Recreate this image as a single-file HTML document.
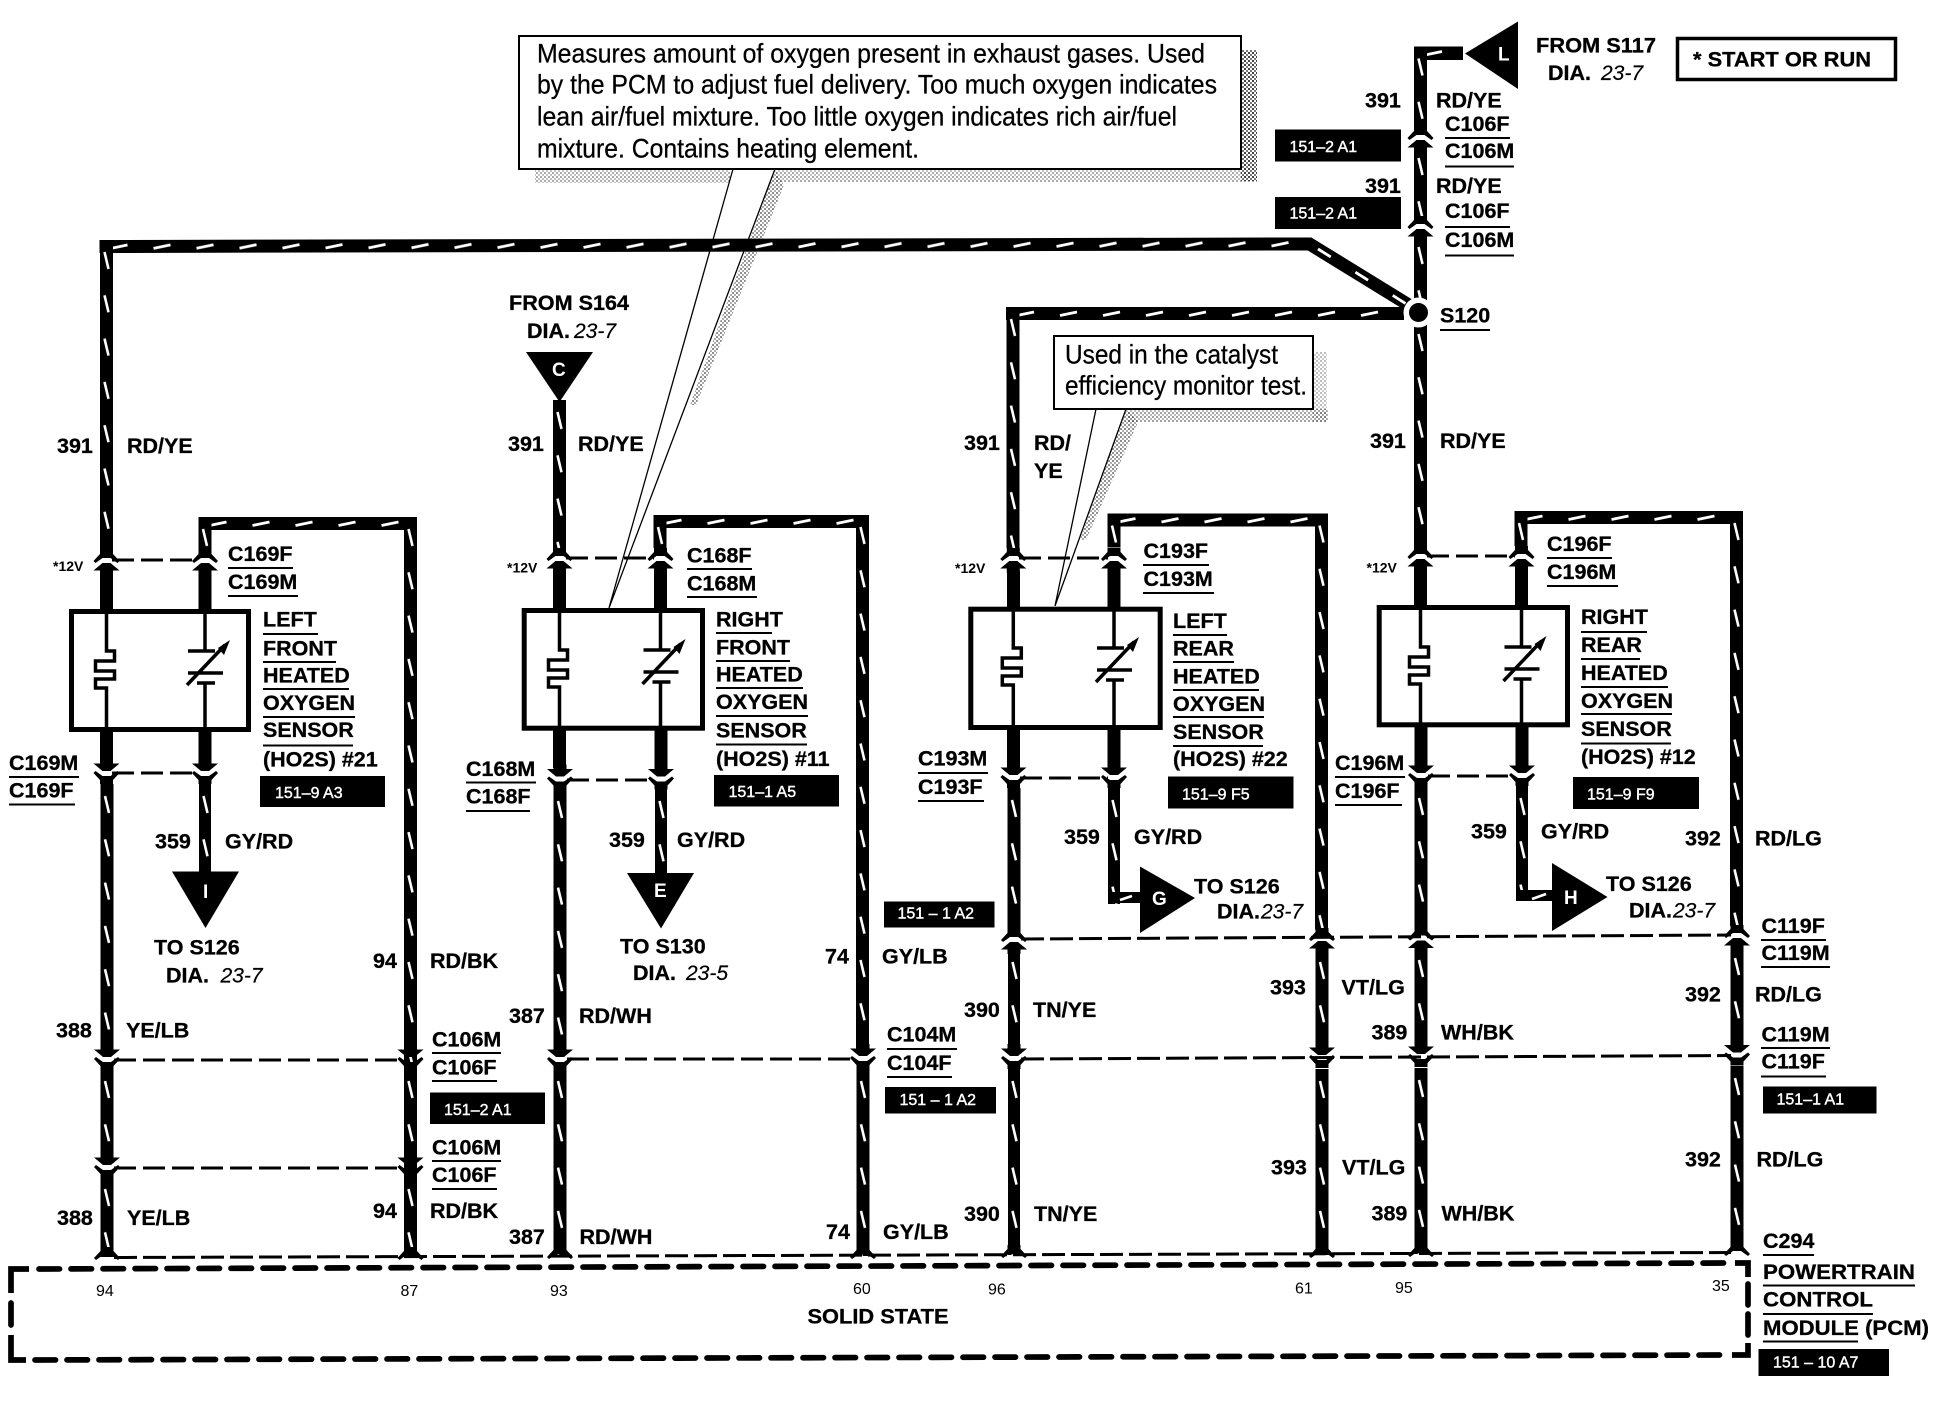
<!DOCTYPE html>
<html lang="en">
<head>
<meta charset="utf-8">
<title>Heated Oxygen Sensors Wiring Diagram</title>
<style>
html,body{margin:0;padding:0;background:#fff}
svg{display:block}
text{font-family:"Liberation Sans",sans-serif;fill:#000}
.b{font-weight:700;font-size:21.5px;stroke:#000;stroke-width:.3px}
.i{font-style:italic;font-size:21px;stroke:#000;stroke-width:.2px}
.c{font-size:24px;stroke:#000;stroke-width:.25px;transform-box:fill-box;transform-origin:0 100%;transform:scaleY(1.12)}
.v{font-weight:700;font-size:14px}
.n{font-size:16px}
.w{font-size:16px;fill:#fff;stroke:#fff;stroke-width:.4px}
.l{font-weight:700;font-size:19px;fill:#fff}
</style>
</head>
<body>
<svg xmlns="http://www.w3.org/2000/svg" width="1948" height="1408" viewBox="0 0 1948 1408">
<defs>
<pattern id="vw" width="13" height="43.3" patternUnits="userSpaceOnUse"><rect width="13" height="43.3" fill="#000"/><path d="M4.500 12L8.500 29" stroke="#fff" stroke-width="2.600"/></pattern>
<pattern id="hw" width="43" height="13" patternUnits="userSpaceOnUse"><rect width="43" height="13" fill="#000"/><path d="M11 8.500L28 5" stroke="#fff" stroke-width="2.800"/></pattern>
<pattern id="st" width="4" height="4" patternUnits="userSpaceOnUse"><rect width="2" height="2" fill="#444"/><rect x="2" y="2" width="2" height="2" fill="#777"/></pattern>
<path id="F" d="M-6.500-10L-6.500-6L-13 1L-11 3L-4-2L4-2L11 3L13 1L6.500-6L6.500-10Z"/>
<g id="U"><use href="#F"/><path d="M-4 3L4 3L13 10.500L6.500 10.500L6.500 15L-6.500 15L-6.500 10.500L-13 10.500Z"/></g>
<path id="hs" fill="none" stroke="#000" stroke-width="3.500" d="M0 0V41H8V51H-11V61H8V69H-11V78H0V122"/>
<g id="vs"><path fill="none" stroke="#000" stroke-width="3.500" d="M0 0V41M-17 41H10M-17 63H18M-8 73H10M0 73V122M-18 75L20 35"/><path d="M25 30L13 38L19 45Z"/></g>
</defs>
<rect width="1948" height="1408" fill="#fff"/>

<!-- callout shadows -->
<rect x="1241" y="50" width="16" height="131" fill="url(#st)"/>
<rect x="535" y="170" width="195" height="13" fill="url(#st)" opacity=".45"/>
<rect x="776" y="170" width="481" height="12" fill="url(#st)" opacity=".45"/>
<path d="M775 170L690 405L696 405L784 185Z" fill="url(#st)" opacity=".6"/>
<rect x="1313" y="352" width="14" height="70" fill="url(#st)" opacity=".35"/>
<rect x="1128" y="409" width="200" height="13" fill="url(#st)" opacity=".5"/>
<path d="M1126 409L1080 540L1086 540L1138 422Z" fill="url(#st)" opacity=".6"/>

<!-- callout boxes -->
<rect x="519" y="36" width="722" height="133" fill="#fff" stroke="#000" stroke-width="2"/>
<path d="M733 169L609 608M775 169L609 608M1096 409L1055 606M1126 409L1055 606" stroke="#000" stroke-width="1.300" fill="none"/>
<rect x="1054" y="336" width="259" height="73" fill="#fff" stroke="#000" stroke-width="2"/>

<!-- long wires -->
<rect transform="translate(99.500 240) rotate(-.12)" width="1212" height="13" fill="url(#hw)"/>
<rect transform="translate(100 240)" width="13" height="310" fill="url(#vw)"/>
<path d="M1308 243L1412 307" stroke="#000" stroke-width="13"/>
<path d="M1318 249L1408 305" stroke="#fff" stroke-width="2.800" stroke-dasharray="15 29"/>

<!-- right riser -->
<rect transform="translate(1414 46.500)" width="49" height="13.500" fill="url(#hw)"/>
<rect transform="translate(1414 46.500)" width="13" height="82" fill="url(#vw)"/>
<rect transform="translate(1414 146)" width="13" height="72" fill="url(#vw)"/>
<rect transform="translate(1414 235)" width="13" height="68" fill="url(#vw)"/>
<rect transform="translate(1414 322)" width="13" height="224" fill="url(#vw)"/>
<rect transform="translate(1006 307)" width="398" height="13" fill="url(#hw)"/>
<rect transform="translate(1006.500 307)" width="13" height="241" fill="url(#vw)"/>
<circle cx="1418.500" cy="312.500" r="15" fill="#fff"/>
<circle cx="1418.500" cy="312.500" r="9.500" fill="#000"/>

<!-- Column A -->
<rect transform="translate(198.500 517)" width="218" height="13" fill="url(#hw)"/>
<rect transform="translate(198.500 517)" width="13" height="33" fill="url(#vw)"/>
<rect transform="translate(404 517)" width="13" height="675" fill="url(#vw)"/>
<rect transform="translate(404 1069)" width="13" height="90" fill="url(#vw)"/>
<rect transform="translate(404 1177)" width="13" height="80" fill="url(#vw)"/>
<rect x="100" y="574" width="13" height="36" fill="#000"/>
<rect x="198.500" y="574" width="13" height="36" fill="#000"/>
<rect x="100" y="732" width="13" height="30" fill="#000"/>
<rect x="198.500" y="732" width="13" height="30" fill="#000"/>
<rect transform="translate(100.500 784)" width="13" height="262" fill="url(#vw)"/>
<rect transform="translate(199 784)" width="12" height="90" fill="url(#vw)"/>
<rect transform="translate(100.500 1069)" width="13" height="90" fill="url(#vw)"/>
<rect transform="translate(100.500 1177)" width="13" height="80" fill="url(#vw)"/>
<rect x="71.500" y="611.500" width="177" height="118" fill="#fff" stroke="#000" stroke-width="5"/>
<use href="#hs" transform="translate(106.500 610)"/><use href="#vs" transform="translate(205 610)"/>
<use href="#U" transform="translate(106.500 560)"/><use href="#U" transform="translate(205 560)"/>
<use href="#U" transform="translate(106.500 774) scale(1 -1)"/><use href="#U" transform="translate(205 774) scale(1 -1)"/>
<use href="#U" transform="translate(107 1060) scale(1 -1)"/><use href="#U" transform="translate(410.500 1060) scale(1 -1)"/>
<use href="#U" transform="translate(107 1168) scale(1 -1)"/><use href="#U" transform="translate(410.500 1168) scale(1 -1)"/>
<path d="M172 871.500H239L205.500 928Z"/>
<path d="M112 560H199M112 773H199M114 1060H404M114 1168H404" stroke="#000" stroke-width="3" stroke-dasharray="22 7" fill="none"/>

<!-- Column B -->
<path d="M526 352H593L559.500 402Z"/>
<rect transform="translate(553 400)" width="13" height="148" fill="url(#vw)"/>
<rect transform="translate(653.500 515)" width="215.500" height="13" fill="url(#hw)"/>
<rect transform="translate(653.500 515)" width="13" height="33" fill="url(#vw)"/>
<rect transform="translate(856 515)" width="13" height="535" fill="url(#vw)"/>
<rect transform="translate(856.500 1069)" width="13" height="187" fill="url(#vw)"/>
<rect x="553" y="572" width="13" height="38" fill="#000"/>
<rect x="654" y="572" width="13" height="38" fill="#000"/>
<rect x="553" y="730" width="13" height="38" fill="#000"/>
<rect x="654.500" y="730" width="13" height="38" fill="#000"/>
<rect transform="translate(553.500 789)" width="13" height="260" fill="url(#vw)"/>
<rect transform="translate(655 789)" width="12" height="86" fill="url(#vw)"/>
<rect transform="translate(553.500 1069)" width="13" height="187" fill="url(#vw)"/>
<rect x="524.200" y="610.500" width="178.300" height="117.700" fill="#fff" stroke="#000" stroke-width="5"/>
<use href="#hs" transform="translate(559.500 609)"/><use href="#vs" transform="translate(660.500 609)"/>
<use href="#U" transform="translate(559.500 558)"/><use href="#U" transform="translate(660.500 558)"/>
<use href="#U" transform="translate(560 779.500) scale(1 -1)"/><use href="#U" transform="translate(661 779.500) scale(1 -1)"/>
<use href="#U" transform="translate(560 1060) scale(1 -1)"/><use href="#U" transform="translate(863 1059) scale(1 -1)"/>
<path d="M627 873H694L661 928.500Z"/>
<path d="M566 558H654M567 780H654M567 1059H857" stroke="#000" stroke-width="3" stroke-dasharray="22 7" fill="none"/>

<!-- Column C -->
<rect transform="translate(1107.500 513.500)" width="220" height="13" fill="url(#hw)"/>
<rect transform="translate(1107.500 513.500)" width="13" height="34" fill="url(#vw)"/>
<rect transform="translate(1315 513.500)" width="13" height="416" fill="url(#vw)"/>
<rect transform="translate(1315.500 950)" width="13" height="98" fill="url(#vw)"/>
<rect transform="translate(1315.500 1069)" width="13" height="186" fill="url(#vw)"/>
<rect x="1007" y="571" width="13" height="38" fill="#000"/>
<rect x="1107.500" y="571" width="13" height="38" fill="#000"/>
<rect x="1007" y="728" width="13" height="40" fill="#000"/>
<rect x="1107.500" y="728" width="13" height="40" fill="#000"/>
<rect transform="translate(1007.500 788)" width="13" height="142" fill="url(#vw)"/>
<rect transform="translate(1008 950)" width="12" height="98" fill="url(#vw)"/>
<rect transform="translate(1008 1069)" width="12" height="186" fill="url(#vw)"/>
<rect transform="translate(1108 788)" width="12" height="116" fill="url(#vw)"/>
<rect x="1108" y="892" width="33" height="11" fill="#000"/>
<path d="M1120 900L1132 896" stroke="#fff" stroke-width="2.600"/>
<rect x="970.800" y="609.200" width="189.400" height="118.300" fill="#fff" stroke="#000" stroke-width="5"/>
<use href="#hs" transform="translate(1013.300 607)"/><use href="#vs" transform="translate(1114 607)"/>
<use href="#U" transform="translate(1013.300 558)"/><use href="#U" transform="translate(1114 558)"/>
<use href="#U" transform="translate(1013.500 778) scale(1 -1)"/><use href="#U" transform="translate(1114 778) scale(1 -1)"/>
<use href="#U" transform="translate(1014 939)"/><use href="#U" transform="translate(1322 938)"/>
<use href="#U" transform="translate(1014 1059) scale(1 -1)"/><use href="#U" transform="translate(1322 1058) scale(1 -1)"/>
<path d="M1140 866.500V933L1195 898Z"/>
<path d="M1019 558H1108M1020 778H1108" stroke="#000" stroke-width="3" stroke-dasharray="22 7" fill="none"/>

<!-- Column D -->
<rect transform="translate(1514.500 511)" width="228.500" height="13" fill="url(#hw)"/>
<rect transform="translate(1514.500 511)" width="13" height="35" fill="url(#vw)"/>
<rect transform="translate(1730 511)" width="13" height="415" fill="url(#vw)"/>
<rect transform="translate(1730.500 946)" width="13" height="100" fill="url(#vw)"/>
<rect transform="translate(1730.500 1066)" width="13" height="185" fill="url(#vw)"/>
<rect x="1414" y="570" width="13" height="38" fill="#000"/>
<rect x="1515" y="570" width="13" height="38" fill="#000"/>
<rect x="1414.500" y="725" width="13" height="41" fill="#000"/>
<rect x="1515.500" y="725" width="13" height="41" fill="#000"/>
<rect transform="translate(1414.500 786)" width="13" height="142" fill="url(#vw)"/>
<rect transform="translate(1414.500 948)" width="13" height="98" fill="url(#vw)"/>
<rect transform="translate(1414.500 1068)" width="13" height="186" fill="url(#vw)"/>
<rect transform="translate(1516 786)" width="12" height="110" fill="url(#vw)"/>
<rect x="1516" y="890" width="37" height="11" fill="#000"/>
<path d="M1532 899L1546 894" stroke="#fff" stroke-width="2.600"/>
<rect x="1379.200" y="607.500" width="188.300" height="117.300" fill="#fff" stroke="#000" stroke-width="5"/>
<use href="#hs" transform="translate(1420.500 606)"/><use href="#vs" transform="translate(1521.500 606)"/>
<use href="#U" transform="translate(1420.500 556)"/><use href="#U" transform="translate(1521.500 556)"/>
<use href="#U" transform="translate(1421 776) scale(1 -1)"/><use href="#U" transform="translate(1522 776) scale(1 -1)"/>
<use href="#U" transform="translate(1421 937.500)"/><use href="#U" transform="translate(1737 935)"/>
<use href="#U" transform="translate(1421 1057) scale(1 -1)"/><use href="#U" transform="translate(1737 1055.500) scale(1 -1)"/>
<path d="M1552 863V931L1607.500 897Z"/>
<path d="M1427 556H1515M1428 776H1515" stroke="#000" stroke-width="3" stroke-dasharray="22 7" fill="none"/>

<!-- long dashed connector rows -->
<path d="M1021 939L1731 935M1021 1059L1731 1055.500M114 1257.500L1731 1252.500" stroke="#000" stroke-width="3" stroke-dasharray="23 6" fill="none"/>

<!-- bottom pins -->
<use href="#F" transform="translate(107 1257)"/><use href="#F" transform="translate(410.500 1257)"/>
<use href="#F" transform="translate(560 1256)"/><use href="#F" transform="translate(863 1256)"/>
<use href="#F" transform="translate(1014 1255)"/><use href="#F" transform="translate(1322 1255)"/>
<use href="#F" transform="translate(1421 1254)"/><use href="#F" transform="translate(1737 1253)"/>

<!-- right top connectors and L flag -->
<use href="#U" transform="translate(1420.500 137)"/><use href="#U" transform="translate(1420.500 226)"/>
<path d="M1465 53.500L1518 21.500V89Z"/>

<!-- solid state dashed box -->
<g fill="none" stroke="#000" stroke-width="5.700">
<path d="M11 1293V1269H29M11 1335V1360H26M1735 1263H1748V1277M1732 1355H1748V1343"/>
<path d="M11 1303V1325M1748 1284V1305M1748 1314V1335" stroke-linecap="round"/>
<path d="M39 1269L1728 1263M35 1360L1725 1355" stroke-linecap="round" stroke-dasharray="20.500 11.500"/>
</g>

<!-- start or run box -->
<rect x="1677.500" y="38.500" width="218" height="41" fill="#fff" stroke="#000" stroke-width="3.500"/>

<!-- label bars -->
<g>
<rect x="1275" y="129.500" width="126" height="32"/>
<rect x="1275" y="197" width="126" height="32"/>
<rect x="260" y="776" width="125" height="31"/>
<rect x="714" y="775" width="125" height="31.500"/>
<rect x="1168" y="776.500" width="125.500" height="32"/>
<rect x="1573" y="777" width="126" height="32"/>
<rect x="884" y="901.500" width="110.500" height="26"/>
<rect x="885" y="1087" width="111" height="26.500"/>
<rect x="430" y="1092.500" width="115" height="31.500"/>
<rect x="1763" y="1086.500" width="113.500" height="27"/>
<rect x="1758.500" y="1349" width="130.500" height="27"/>
</g>

<!-- underlines -->
<path fill="none" stroke="#000" stroke-width="2" d="
M228 568H293M228 596H298
M263 634H318M263 662H336M263 689H349M263 717H355M263 745.500H353
M9 777H79M9 804.500H75
M466 782.500H536M466 811H530
M687 569H752M687 597H757
M716 633H772M716 661H790M716 688H803M716 716H808M716 744.500H807
M1143 565H1209M1143 593H1214
M1173 635H1227M1173 662H1234M1173 690H1259M1173 717H1264M1173 746H1263
M918 773H988M918 801H984
M1547 558H1612M1547 586H1618
M1581 632H1647M1581 659H1640M1581 687H1668M1581 714H1672M1581 743.500H1671
M1335 777H1405M1335 805H1402
M1445 138H1510M1445 166.500H1514M1445 227H1510M1445 255.500H1514
M1440 330H1490
M432 1053H501M432 1081H497M432 1161H501M432 1189H497
M887 1049H957M887 1077H952
M1761 940H1826M1761 967H1830M1761 1048H1830M1761 1076.500H1826
M1763 1255H1814M1763 1285.500H1915M1763 1314H1873M1763 1341.500H1858"/>

<!-- callout text -->
<text class="c" x="537" y="63" textLength="668" lengthAdjust="spacingAndGlyphs">Measures amount of oxygen present in exhaust gases. Used</text>
<text class="c" x="537" y="94" textLength="680" lengthAdjust="spacingAndGlyphs">by the PCM to adjust fuel delivery. Too much oxygen indicates</text>
<text class="c" x="537" y="126" textLength="640" lengthAdjust="spacingAndGlyphs">lean air/fuel mixture. Too little oxygen indicates rich air/fuel</text>
<text class="c" x="537" y="158" textLength="382" lengthAdjust="spacingAndGlyphs">mixture. Contains heating element.</text>
<text class="c" x="1065" y="364" textLength="213" lengthAdjust="spacingAndGlyphs">Used in the catalyst</text>
<text class="c" x="1065" y="395" textLength="242" lengthAdjust="spacingAndGlyphs">efficiency monitor test.</text>

<!-- bold text -->
<text class="b" x="1536" y="52.500" textLength="120" lengthAdjust="spacingAndGlyphs">FROM S117</text>
<text class="b" x="1548" y="80">DIA.</text>
<text class="i" x="1601" y="80">23-7</text>
<text class="b" x="1693" y="66.500" textLength="178" lengthAdjust="spacingAndGlyphs">* START OR RUN</text>
<text class="b" x="1365" y="107.500">391</text><text class="b" x="1436" y="107.500">RD/YE</text>
<text class="b" x="1445" y="131">C106F</text><text class="b" x="1445" y="158">C106M</text>
<text class="b" x="1365" y="193">391</text><text class="b" x="1436" y="193">RD/YE</text>
<text class="b" x="1445" y="218">C106F</text><text class="b" x="1445" y="247">C106M</text>
<text class="b" x="1440" y="322.500">S120</text>
<text class="b" x="509" y="310" textLength="120" lengthAdjust="spacingAndGlyphs">FROM S164</text>
<text class="b" x="527" y="338">DIA.</text><text class="i" x="574" y="338">23-7</text>
<text class="b" x="57" y="453">391</text><text class="b" x="127" y="453">RD/YE</text>
<text class="b" x="508" y="451">391</text><text class="b" x="578" y="451">RD/YE</text>
<text class="b" x="964" y="450">391</text><text class="b" x="1034" y="450">RD/</text><text class="b" x="1034" y="478">YE</text>
<text class="b" x="1370" y="448">391</text><text class="b" x="1440" y="448">RD/YE</text>
<text class="b" x="228" y="561">C169F</text><text class="b" x="228" y="589">C169M</text>
<text class="b" x="687" y="562.500">C168F</text><text class="b" x="687" y="590.500">C168M</text>
<text class="b" x="1143.500" y="558">C193F</text><text class="b" x="1143.500" y="586">C193M</text>
<text class="b" x="1547" y="551">C196F</text><text class="b" x="1547" y="579">C196M</text>

<text class="b" x="263" y="626.500">LEFT</text><text class="b" x="263" y="655.500">FRONT</text><text class="b" x="263" y="682.500">HEATED</text><text class="b" x="263" y="710">OXYGEN</text><text class="b" x="263" y="737">SENSOR</text><text class="b" x="263" y="766.500">(HO2S) #21</text>
<text class="b" x="716" y="626.500">RIGHT</text><text class="b" x="716" y="654.500">FRONT</text><text class="b" x="716" y="681.500">HEATED</text><text class="b" x="716" y="709">OXYGEN</text><text class="b" x="716" y="737.500">SENSOR</text><text class="b" x="716" y="766">(HO2S) #11</text>
<text class="b" x="1173" y="628">LEFT</text><text class="b" x="1173" y="655.500">REAR</text><text class="b" x="1173" y="683.500">HEATED</text><text class="b" x="1173" y="711">OXYGEN</text><text class="b" x="1173" y="739">SENSOR</text><text class="b" x="1173" y="766">(HO2S) #22</text>
<text class="b" x="1581" y="624">RIGHT</text><text class="b" x="1581" y="652">REAR</text><text class="b" x="1581" y="680">HEATED</text><text class="b" x="1581" y="708">OXYGEN</text><text class="b" x="1581" y="736">SENSOR</text><text class="b" x="1581" y="764">(HO2S) #12</text>

<text class="b" x="9" y="770">C169M</text><text class="b" x="9" y="797.500">C169F</text>
<text class="b" x="466" y="776">C168M</text><text class="b" x="466" y="803.500">C168F</text>
<text class="b" x="918" y="765.500">C193M</text><text class="b" x="918" y="794">C193F</text>
<text class="b" x="1335" y="770">C196M</text><text class="b" x="1335" y="798">C196F</text>

<text class="b" x="155" y="848.500">359</text><text class="b" x="225" y="848.500">GY/RD</text>
<text class="b" x="609" y="847">359</text><text class="b" x="677" y="847">GY/RD</text>
<text class="b" x="1064" y="844">359</text><text class="b" x="1134" y="844">GY/RD</text>
<text class="b" x="1471" y="838.500">359</text><text class="b" x="1541" y="838.500">GY/RD</text>
<text class="b" x="1685" y="845.500">392</text><text class="b" x="1755" y="845.500">RD/LG</text>

<text class="b" x="154" y="954.500">TO S126</text><text class="b" x="166" y="982.500">DIA.</text><text class="i" x="220.500" y="982.500">23-7</text>
<text class="b" x="620" y="953.500">TO S130</text><text class="b" x="633" y="980">DIA.</text><text class="i" x="686" y="980">23-5</text>
<text class="b" x="1194" y="893.500">TO S126</text><text class="b" x="1217" y="918.500">DIA.</text><text class="i" x="1261" y="918.500">23-7</text>
<text class="b" x="1606" y="891">TO S126</text><text class="b" x="1629" y="917.500">DIA.</text><text class="i" x="1673" y="917.500">23-7</text>

<text class="b" x="373" y="968">94</text><text class="b" x="430" y="968">RD/BK</text>
<text class="b" x="825" y="963.500">74</text><text class="b" x="882" y="963.500">GY/LB</text>
<text class="b" x="56" y="1037.500">388</text><text class="b" x="126" y="1037.500">YE/LB</text>
<text class="b" x="509" y="1023">387</text><text class="b" x="579" y="1023">RD/WH</text>
<text class="b" x="964" y="1017">390</text><text class="b" x="1033" y="1017">TN/YE</text>
<text class="b" x="1270" y="994.500">393</text><text class="b" x="1341.500" y="994.500">VT/LG</text>
<text class="b" x="1371.500" y="1039.500">389</text><text class="b" x="1441" y="1039.500">WH/BK</text>
<text class="b" x="1685" y="1001.500">392</text><text class="b" x="1755" y="1001.500">RD/LG</text>
<text class="b" x="1761.500" y="933">C119F</text><text class="b" x="1761.500" y="960">C119M</text>
<text class="b" x="1761.500" y="1041.500">C119M</text><text class="b" x="1761.500" y="1068.500">C119F</text>
<text class="b" x="432" y="1046.500">C106M</text><text class="b" x="432" y="1074.500">C106F</text>
<text class="b" x="432" y="1154.500">C106M</text><text class="b" x="432" y="1182">C106F</text>
<text class="b" x="887" y="1041.500">C104M</text><text class="b" x="887" y="1070">C104F</text>
<text class="b" x="1685" y="1166.500">392</text><text class="b" x="1756.500" y="1166.500">RD/LG</text>
<text class="b" x="1271" y="1174.500">393</text><text class="b" x="1342" y="1174.500">VT/LG</text>
<text class="b" x="57" y="1225">388</text><text class="b" x="127" y="1225">YE/LB</text>
<text class="b" x="373" y="1218">94</text><text class="b" x="430" y="1218">RD/BK</text>
<text class="b" x="509" y="1244">387</text><text class="b" x="579.500" y="1244">RD/WH</text>
<text class="b" x="826" y="1239">74</text><text class="b" x="883" y="1239">GY/LB</text>
<text class="b" x="964" y="1221">390</text><text class="b" x="1034" y="1221">TN/YE</text>
<text class="b" x="1371.500" y="1220.500">389</text><text class="b" x="1441.500" y="1220.500">WH/BK</text>
<text class="b" x="807.500" y="1323.500" textLength="141" lengthAdjust="spacingAndGlyphs">SOLID STATE</text>
<text class="b" x="1763" y="1248">C294</text>
<text class="b" x="1763" y="1279" textLength="152" lengthAdjust="spacingAndGlyphs">POWERTRAIN</text>
<text class="b" x="1763" y="1306.500" textLength="110" lengthAdjust="spacingAndGlyphs">CONTROL</text>
<text class="b" x="1763" y="1335" textLength="166" lengthAdjust="spacingAndGlyphs">MODULE (PCM)</text>

<text class="v" x="53" y="571">*12V</text>
<text class="v" x="507" y="572.500">*12V</text>
<text class="v" x="955" y="573">*12V</text>
<text class="v" x="1366.500" y="572.500">*12V</text>

<text class="n" x="96" y="1296">94</text><text class="n" x="400.500" y="1296">87</text><text class="n" x="550" y="1296">93</text><text class="n" x="853" y="1294">60</text>
<text class="n" x="988" y="1294.500">96</text><text class="n" x="1295" y="1293.500">61</text><text class="n" x="1395" y="1293">95</text><text class="n" x="1712" y="1291">35</text>

<!-- white text on black -->
<text class="w" x="1289.500" y="152">151–2 A1</text>
<text class="w" x="1289.500" y="218.500">151–2 A1</text>
<text class="w" x="275" y="798">151–9 A3</text>
<text class="w" x="728.500" y="797">151–1 A5</text>
<text class="w" x="1182" y="799.500">151–9 F5</text>
<text class="w" x="1587" y="799.500">151–9 F9</text>
<text class="w" x="897.500" y="918.500">151 – 1 A2</text>
<text class="w" x="899.500" y="1105">151 – 1 A2</text>
<text class="w" x="444" y="1115">151–2 A1</text>
<text class="w" x="1776.500" y="1104.500">151–1 A1</text>
<text class="w" x="1773" y="1367.500">151 – 10 A7</text>

<text class="l" x="1498" y="60.500">L</text>
<text class="l" x="552" y="376">C</text>
<text class="l" x="203" y="898">I</text>
<text class="l" x="654" y="897">E</text>
<text class="l" x="1152" y="905">G</text>
<text class="l" x="1564" y="904">H</text>
</svg>
</body>
</html>
